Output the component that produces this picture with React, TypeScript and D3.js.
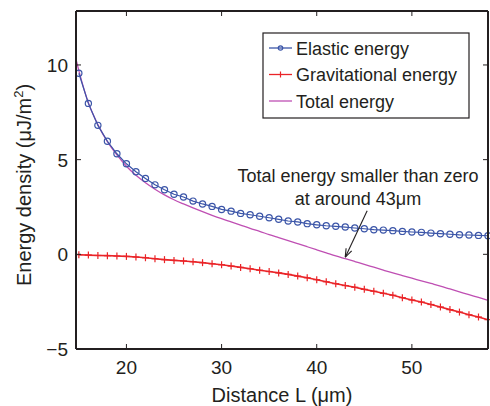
import React from 'react';
import * as d3 from 'd3';

// distances in μm, one marker per micron
const distances = [15, 16, 17, 18, 19, 20, 21, 22, 23, 24, 25, 26, 27, 28, 29, 30, 31, 32, 33, 34, 35, 36,
  37, 38, 39, 40, 41, 42, 43, 44, 45, 46, 47, 48, 49, 50, 51, 52, 53, 54, 55, 56, 57, 58];

const elastic = [9.56, 7.97, 6.81, 5.97, 5.31, 4.78, 4.36, 4.01, 3.67, 3.41, 3.17, 3.03, 2.81, 2.66, 2.53,
  2.37, 2.28, 2.16, 2.09, 2.01, 1.93, 1.85, 1.76, 1.71, 1.62, 1.56, 1.51, 1.48, 1.44, 1.39, 1.35, 1.30,
  1.28, 1.25, 1.21, 1.18, 1.16, 1.12, 1.09, 1.06, 1.03, 1.02, 1.00, 0.98];

const gravitational = [-0.02, -0.04, -0.06, -0.07, -0.09, -0.11, -0.14, -0.18, -0.23, -0.28, -0.32, -0.35,
  -0.39, -0.44, -0.5, -0.55, -0.62, -0.69, -0.76, -0.84, -0.91, -0.98, -1.06, -1.15, -1.24, -1.34, -1.45,
  -1.55, -1.65, -1.74, -1.85, -1.95, -2.06, -2.16, -2.29, -2.41, -2.52, -2.65, -2.78, -2.92, -3.05, -3.19,
  -3.31, -3.45];

// total energy is drawn as a plain line, starting a little left of 15 μm
const totalDistances = [14.7, 15, 16, 17, 18, 19, 20, 21, 22, 23, 24, 25, 26, 27, 28, 29, 30, 31, 32, 33,
  34, 35, 36, 37, 38, 39, 40, 41, 42, 43, 44, 45, 46, 47, 48, 49, 50, 51, 52, 53, 54, 55, 56, 57, 58];
const total = [10.3, 9.7, 8.0, 6.85, 5.95, 5.25, 4.65, 4.17, 3.78, 3.44, 3.14, 2.88, 2.66, 2.45, 2.25,
  2.06, 1.88, 1.71, 1.54, 1.37, 1.21, 1.04, 0.88, 0.72, 0.56, 0.40, 0.24, 0.08, -0.08, -0.23, -0.38,
  -0.53, -0.68, -0.83, -0.98, -1.12, -1.26, -1.40, -1.54, -1.68, -1.83, -1.98, -2.13, -2.28, -2.43];

const xTicks = [20, 30, 40, 50];
const yTicks = [-5, 0, 5, 10];

const legendLabels = ['Elastic energy', 'Gravitational energy', 'Total energy'];
const annotationLines = ['Total energy smaller than zero', 'at around 43\u03bcm'];
const xTitle = 'Distance L (\u03bcm)';
const yTitle = 'Energy density (\u03bcJ/m';
const arrowFrom = { x: 45.3, y: 2.3 };
const arrowTo = { x: 43.0, y: -0.15 };

const W = 490;
const H = 406;
const margin = { top: 11, right: 2, bottom: 57, left: 76 };

const BLUE = '#3b55a8';
const RED = '#ea2428';
const MAGENTA = '#bf4fb3';
const AXIS = '#231f20';
const FONT = '"Liberation Sans", Arial, Helvetica, sans-serif';

export default function App() {
  const x = d3.scaleLinear().domain([14.7, 58]).range([margin.left, W - margin.right]);
  const y = d3.scaleLinear().domain([-5, 12.85]).range([H - margin.bottom, margin.top]);

  const line = d3.line<number>().x((_, i) => x(distances[i])).y(d => y(d));
  const totalLine = d3.line<number>()
    .x((_, i) => x(totalDistances[i]))
    .y(d => y(d))
    .curve(d3.curveMonotoneX);

  const x0 = x.range()[0];
  const x1 = x.range()[1];
  const y0 = y.range()[0];
  const y1 = y.range()[1];
  const tick = 5;

  const ax = x(arrowFrom.x), ay = y(arrowFrom.y);
  const bx = x(arrowTo.x), by = y(arrowTo.y);
  const ang = Math.atan2(by - ay, bx - ax);
  const head = 9;
  const spread = 0.35;

  const legX = 263, legY = 33, legW = 206, legH = 85;

  return (
    <div style={{ position: 'absolute', left: 0, top: 0 }}>
      <svg width={W} height={H} style={{ display: 'block', background: '#fff', fontFamily: FONT }}>
        <defs>
          <clipPath id="plot-clip">
            <rect x={x0} y={y1} width={x1 - x0 + 4} height={y0 - y1} />
          </clipPath>
        </defs>

        <g clipPath="url(#plot-clip)">
          <path d={totalLine(total) || ''} fill="none" stroke={MAGENTA} strokeWidth={1.3} />
          <path d={line(gravitational) || ''} fill="none" stroke={RED} strokeWidth={1.6} />
          {gravitational.map((v, i) => (
            <g key={'g' + i} stroke={RED} strokeWidth={1.2}>
              <line x1={x(distances[i]) - 3.5} x2={x(distances[i]) + 3.5} y1={y(v)} y2={y(v)} />
              <line x1={x(distances[i])} x2={x(distances[i])} y1={y(v) - 3.5} y2={y(v) + 3.5} />
            </g>
          ))}
          <path d={line(elastic) || ''} fill="none" stroke={BLUE} strokeWidth={1.2} />
          {elastic.map((v, i) => (
            <circle key={'e' + i} cx={x(distances[i])} cy={y(v)} r={3.1} fill="none" stroke={BLUE} strokeWidth={1.2} />
          ))}
        </g>

        {/* axes box */}
        <g stroke={AXIS} strokeWidth={2} fill="none">
          <line x1={x0} x2={x1} y1={y0} y2={y0} />
          <line x1={x0} x2={x1} y1={y1} y2={y1} />
          <line x1={x0} x2={x0} y1={y0} y2={y1} />
          <line x1={x1} x2={x1} y1={y0} y2={y1} />
        </g>
        <g stroke={AXIS} strokeWidth={1}>
          {xTicks.map(t => (
            <g key={'xt' + t}>
              <line x1={x(t)} x2={x(t)} y1={y0} y2={y0 - tick} />
              <line x1={x(t)} x2={x(t)} y1={y1} y2={y1 + tick} />
            </g>
          ))}
          {yTicks.map(t => (
            <g key={'yt' + t}>
              <line x1={x0} x2={x0 + tick} y1={y(t)} y2={y(t)} />
              <line x1={x1} x2={x1 - tick} y1={y(t)} y2={y(t)} />
            </g>
          ))}
        </g>
        <g fontSize={19} fill={AXIS}>
          {xTicks.map(t => (
            <text key={'xl' + t} x={x(t)} y={y0 + 25} textAnchor="middle">{t}</text>
          ))}
          {yTicks.map(t => (
            <text key={'yl' + t} x={x0 - 8} y={y(t) + 7} textAnchor="end">
              {t < 0 ? '\u2212' + Math.abs(t) : t}
            </text>
          ))}
        </g>
        <g fontSize={20} fill={AXIS}>
          <text x={(x0 + x1) / 2} y={402} textAnchor="middle">{xTitle}</text>
          <text transform={`translate(31, ${(y0 + y1) / 2 + 5}) rotate(-90)`} textAnchor="middle">
            {yTitle}<tspan dy={-8} fontSize={13}>2</tspan><tspan dy={8}>)</tspan>
          </text>
        </g>

        {/* legend */}
        <g>
          <rect x={legX} y={legY} width={legW} height={legH} fill="#fff" stroke={AXIS} strokeWidth={1.2} />
          {legendLabels.map((lab, i) => {
            const ly = legY + 15 + i * 26.5;
            const color = [BLUE, RED, MAGENTA][i];
            return (
              <g key={lab}>
                <line x1={legX + 6} x2={legX + 29} y1={ly} y2={ly} stroke={color} strokeWidth={1.3} />
                {i === 0 && <circle cx={legX + 17.5} cy={ly} r={2.2} fill="none" stroke={BLUE} strokeWidth={1.2} />}
                {i === 1 && <line x1={legX + 17.5} x2={legX + 17.5} y1={ly - 3} y2={ly + 3} stroke={RED} strokeWidth={1.2} />}
                <text x={legX + 33} y={ly + 6.5} fontSize={18} fill={AXIS}>{lab}</text>
              </g>
            );
          })}
        </g>

        {/* annotation */}
        <g fill={AXIS} fontSize={18} textAnchor="middle">
          {annotationLines.map((t, i) => (
            <text key={t} x={358} y={182 + i * 23}>{t}</text>
          ))}
        </g>
        <g stroke={AXIS} strokeWidth={1.1} fill="none">
          <line x1={ax} y1={ay} x2={bx} y2={by} />
          <line x1={bx} y1={by} x2={bx - head * Math.cos(ang - spread)} y2={by - head * Math.sin(ang - spread)} />
          <line x1={bx} y1={by} x2={bx - head * Math.cos(ang + spread)} y2={by - head * Math.sin(ang + spread)} />
        </g>
      </svg>
    </div>
  );
}
